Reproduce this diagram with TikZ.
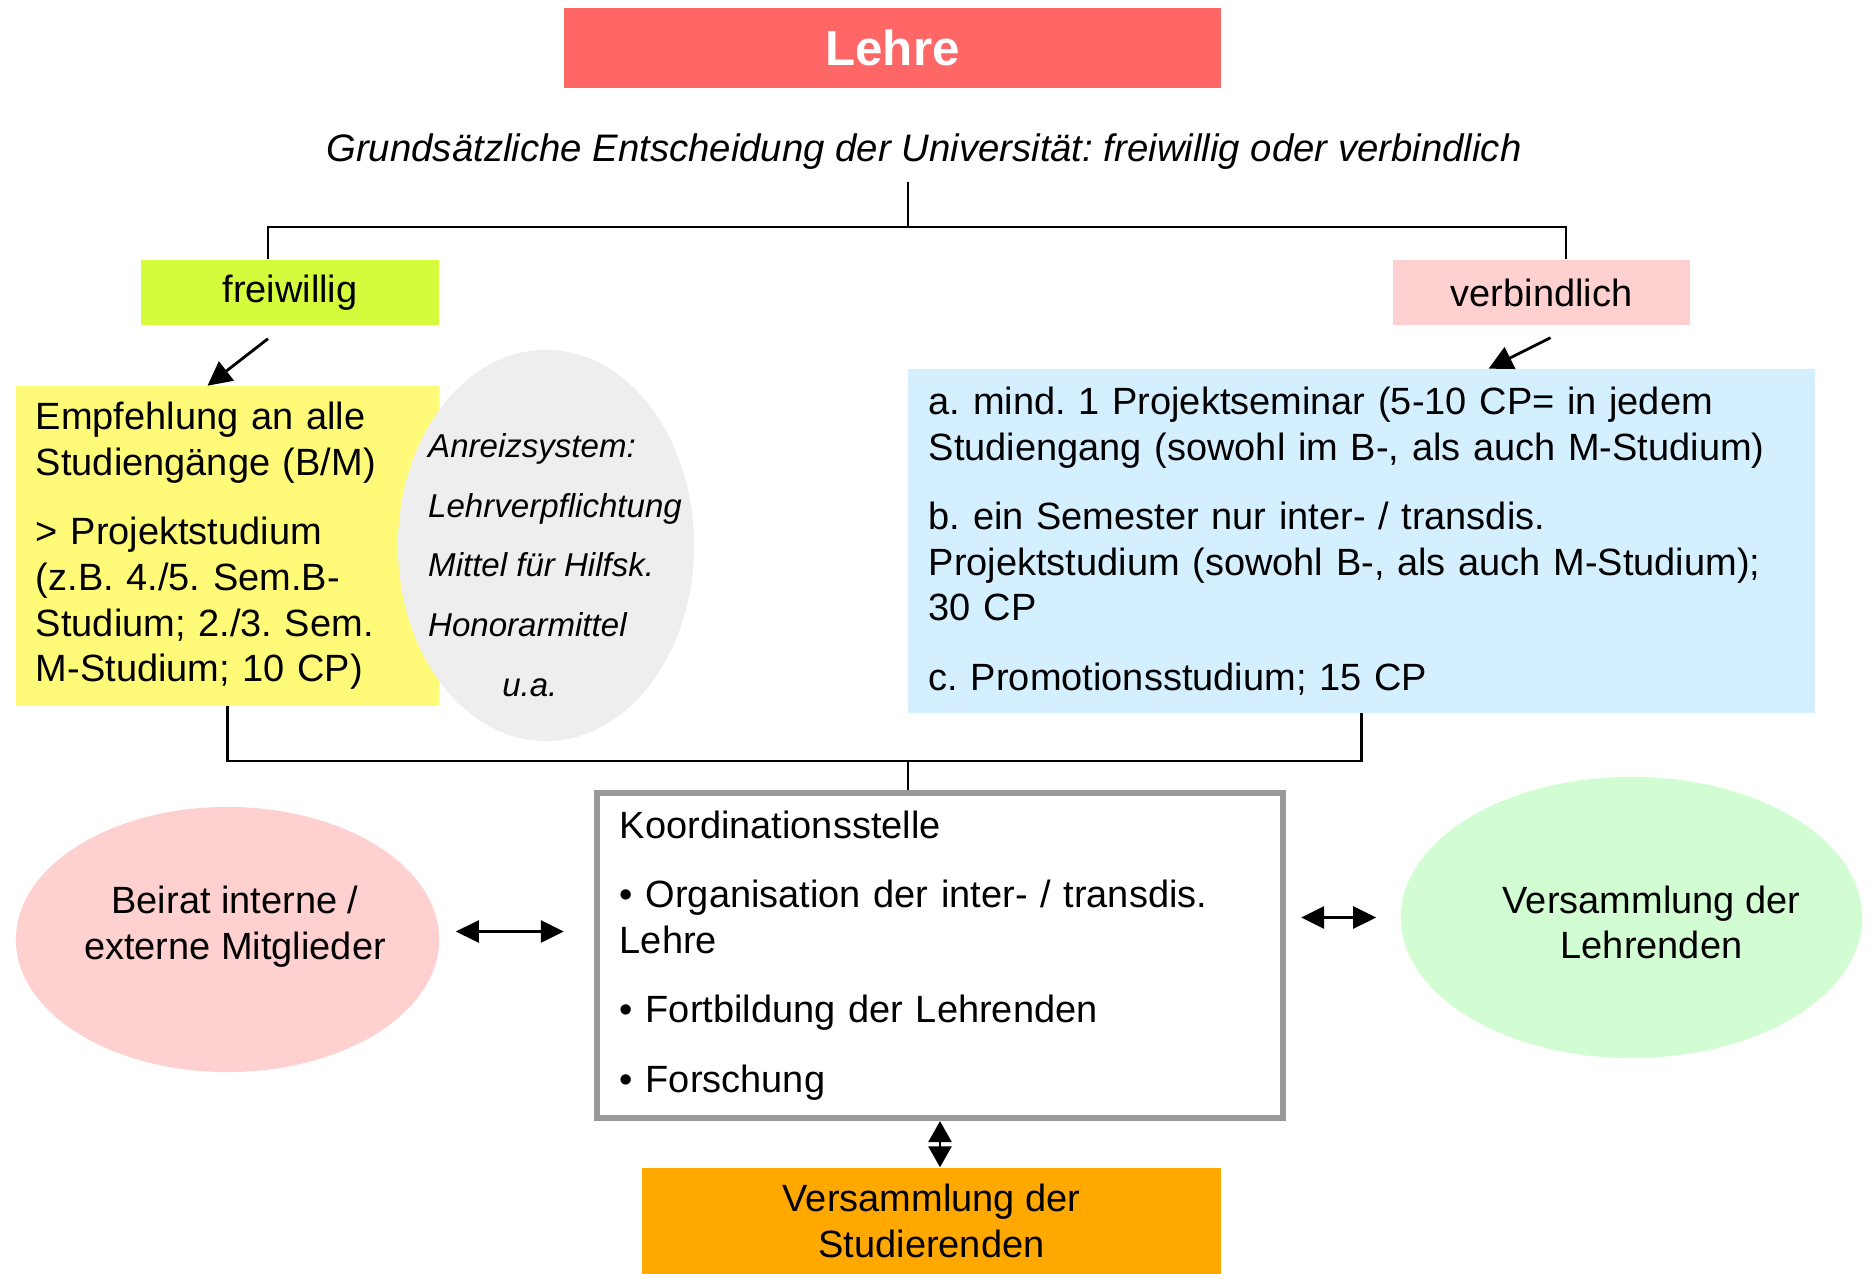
\documentclass[tikz,border=0pt]{standalone}
\usepackage{fontspec}
\setmainfont{Liberation Sans}
\frenchspacing
\usetikzlibrary{shapes.geometric, arrows.meta}

\definecolor{lehrerot}{HTML}{FF6666}
\definecolor{freigruen}{HTML}{D4FC3C}
\definecolor{rosa}{HTML}{FFD0D0}
\definecolor{hellgelb}{HTML}{FFFB78}
\definecolor{hellgrau}{HTML}{EEEEEE}
\definecolor{hellblau}{HTML}{D4EFFF}
\definecolor{rahmengrau}{HTML}{999999}
\definecolor{hellgruen}{HTML}{D2FCD2}
\definecolor{orange}{HTML}{FFA800}

\begin{document}
\begin{tikzpicture}[
	x = 0.01cm, y = -0.01cm,
	txt/.style = {font = \fontsize{10.8}{13}\selectfont},
	kasten/.style = {rectangle, inner sep = 0pt, txt},
	oval/.style = {ellipse, inner sep = 0pt},
	linie/.style = {line width = 0.6pt},
	pfeil/.style = {line width = 0.8pt,
		-{Triangle[length = 2.4mm, width = 2.4mm]}},
	doppel/.style = {line width = 0.8pt,
		{Triangle[length = 2.3mm, width = 2.2mm]}-{Triangle[length = 2.3mm, width = 2.2mm]}},
	doppelkurz/.style = {line width = 0.8pt,
		{Triangle[length = 2.1mm, width = 2.3mm]}-{Triangle[length = 2.1mm, width = 2.3mm]}},
]

	% Rand des Bildes
	\useasboundingbox (0,0) rectangle (1874,1274);

	% Titel
	\node[kasten, fill = lehrerot, text = white,
		minimum width = 6.57cm, minimum height = 0.8cm,
		font = \bfseries\fontsize{14}{16}\selectfont]
		(lehre) at (892.5,48) {Lehre};

	\node[txt, font = \itshape\fontsize{10.9}{13}\selectfont]
		(grundsatz) at (924,152)
		{Grundsätzliche Entscheidung der Universität: freiwillig oder verbindlich};

	% die zwei Wege
	\node[kasten, fill = freigruen, minimum width = 2.98cm, minimum height = 0.65cm]
		(freiwillig) at (290,292.5) {freiwillig};
	\node[kasten, fill = rosa, minimum width = 2.97cm, minimum height = 0.65cm]
		(verbindlich) at (1541.5,292.5) {verbindlich};

	% Verzweigung oben
	\coordinate (gabel) at (908,227);
	\draw[linie] (grundsatz.south -| gabel) -- (gabel);
	\draw[linie] ([xshift = -2.2mm]freiwillig.north) |- (gabel)
		-| ([xshift = 2.45mm]verbindlich.north);

	% freiwillig: Empfehlung
	\node[kasten, fill = hellgelb, minimum width = 4.23cm, minimum height = 3.19cm,
		text width = 3.83cm, align = left]
		(empfehlung) at (227.5,546)
		{Empfehlung an alle\\
		Studiengänge (B/M)\\[6.7pt]
		> Projektstudium\\
		(z.B. 4./5. Sem.B-\\
		Studium; 2./3. Sem.\\
		M-Studium; 10 CP)};

	% Anreizsystem
	\node[oval, fill = hellgrau, minimum width = 2.96cm, minimum height = 3.91cm]
		(anreiz) at (546,545.5) {};
	\node[align = left, font = \itshape\fontsize{9.4}{17}\selectfont]
		(anreiztext) at (555,565)
		{Anreizsystem:\\
		Lehrverpflichtung\\
		Mittel für Hilfsk.\\
		Honorarmittel\\
		\hspace*{0.74cm}u.a.};

	% verbindlich: Varianten
	\node[kasten, fill = hellblau, minimum width = 9.07cm, minimum height = 3.43cm,
		text width = 8.65cm, align = left]
		(varianten) at (1361.5,541)
		{a. mind. 1 Projektseminar (5-10 CP= in jedem\\
		Studiengang (sowohl im B-, als auch M-Studium)\\[6.7pt]
		b. ein Semester nur inter- / transdis.\\
		Projektstudium (sowohl B-, als auch M-Studium);\\
		30 CP\\[6.7pt]
		c. Promotionsstudium; 15 CP};

	\draw[pfeil] ([xshift = -2.2mm, yshift = -1.3mm]freiwillig.south)
		-- ([xshift = -2mm]empfehlung.north);
	\draw[pfeil] ([xshift = 0.9mm, yshift = -1.2mm]verbindlich.south)
		-- ([xshift = 1.27cm]varianten.north);

	% Koordinationsstelle
	\node[kasten, draw = rahmengrau, line width = 1.7pt, fill = white,
		minimum width = 6.86cm, minimum height = 3.25cm,
		text width = 6.4cm, align = left]
		(koord) at (940,955.5)
		{Koordinationsstelle\\[6.7pt]
		• Organisation der inter- / transdis.\\
		Lehre\\[6.7pt]
		• Fortbildung der Lehrenden\\[6.7pt]
		• Forschung};

	% Zusammenführung unten
	\coordinate (knoten) at (908,761);
	\draw[linie] (empfehlung.south) |- (knoten) -| (varianten.south);
	\draw[linie] (knoten) -- (knoten |- koord.north);

	% Gremien
	\node[oval, fill = rosa, minimum width = 4.23cm, minimum height = 2.65cm]
		(beirat) at (227.5,939.5) {};
	\node[txt, align = center] (beirattext) at (235,926.5)
		{Beirat interne /\\ externe Mitglieder};
	\node[oval, fill = hellgruen, minimum width = 4.61cm, minimum height = 2.81cm]
		(lehrende) at (1631.5,917.5) {};
	\node[txt, align = center] (lehrendetext) at (1651.5,922.5)
		{Versammlung der\\ Lehrenden};
	\node[kasten, fill = orange, minimum width = 5.79cm, minimum height = 1.06cm,
		align = center]
		(studierende) at (931.5,1221)
		{Versammlung der\\ Studierenden};

	\draw[doppel] ([xshift = 1.6mm, yshift = 0.8mm]beirat.east)
		-- ([xshift = -3mm, yshift = 0.8mm]koord.west |- beirat.east);
	\draw[doppel] ([xshift = 1.5mm]koord.east |- lehrende.west)
		-- ([xshift = -2.4mm]lehrende.west);
	\draw[doppelkurz] (koord.south) -- (koord.south |- studierende.north);

\end{tikzpicture}
\end{document}
